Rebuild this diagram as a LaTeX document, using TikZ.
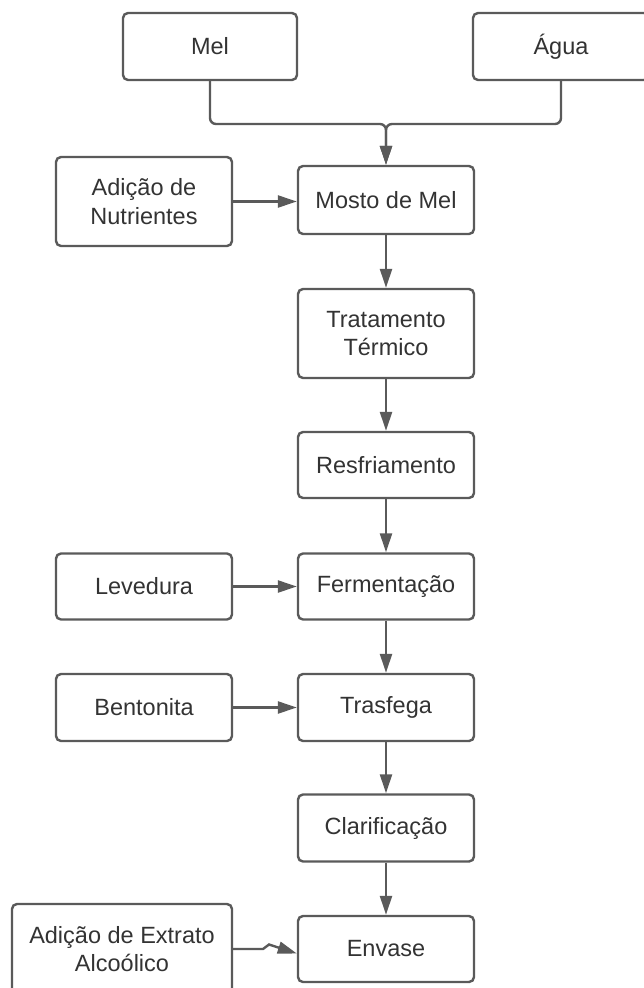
\documentclass[tikz,border=0pt]{standalone}
\usepackage{fontspec}
\setmainfont{Liberation Sans}
\usetikzlibrary{arrows.meta}
\definecolor{linec}{HTML}{5A5A5A}
\definecolor{textc}{HTML}{333333}
\tikzset{
  box/.style={draw=linec, line width=2.4pt, rounded corners=5pt, fill=white,
    text=textc, align=center, inner sep=0pt,
    font=\fontsize{23.5}{28.5}\selectfont, minimum width=176pt},
  conn/.style={draw=linec, line width=2.4pt, -{Triangle[length=19pt,width=12pt]}},
  plain/.style={draw=linec, line width=2.4pt}
}
\begin{document}
\begin{tikzpicture}[x=1pt,y=-1pt]
\path[use as bounding box, clip] (0,0) rectangle (644,988);
\node[box, minimum width=174pt, minimum height=67pt] (mel) at (210,46.5) {Mel};
\node[box, minimum height=67pt] (agua) at (561,46.5) {Água};
\node[box, minimum height=68pt] (mosto) at (386,200) {Mosto de Mel};
\node[box, minimum height=89pt] (nutr) at (144,201.5) {Adição de\\Nutrientes};
\node[box, minimum height=89pt] (trat) at (386,333.5) {Tratamento\\Térmico};
\node[box, minimum height=66pt] (resf) at (386,465) {Resfriamento};
\node[box, minimum height=66pt] (ferm) at (386,586.5) {Fermentação};
\node[box, minimum height=66pt] (lev) at (144,586.5) {Levedura};
\node[box, minimum height=67pt] (trasf) at (386,707.5) {Trasfega};
\node[box, minimum height=67pt] (bent) at (144,707.5) {Bentonita};
\node[box, minimum height=67pt] (clar) at (386,828) {Clarificação};
\node[box, minimum height=66pt] (envase) at (386,949) {Envase};
\node[box, minimum width=220pt, minimum height=90pt] (extr) at (122,949) {Adição de Extrato\\Alcoólico};
\coordinate (j) at (386,124);
\coordinate (k1) at (263,949);
\coordinate (k2) at (269,944.5);
\draw[conn, rounded corners=6pt] (mel.south) -- (mel.south |- j) -- (j) -- (mosto.north);
\draw[conn, rounded corners=6pt] (agua.south) -- (agua.south |- j) -- (j) -- (mosto.north);
\draw[conn] (nutr.east) -- (nutr.east -| mosto.west);
\draw[conn] (mosto) -- (trat);
\draw[conn] (trat) -- (resf);
\draw[conn] (resf) -- (ferm);
\draw[conn] (lev) -- (ferm);
\draw[conn] (ferm) -- (trasf);
\draw[conn] (bent) -- (trasf);
\draw[conn] (trasf) -- (clar);
\draw[conn] (clar) -- (envase);
\draw[conn] (extr.east) -- (k1) -- (k2) -- ([yshift=-4.5pt]envase.west);
\end{tikzpicture}
\end{document}
